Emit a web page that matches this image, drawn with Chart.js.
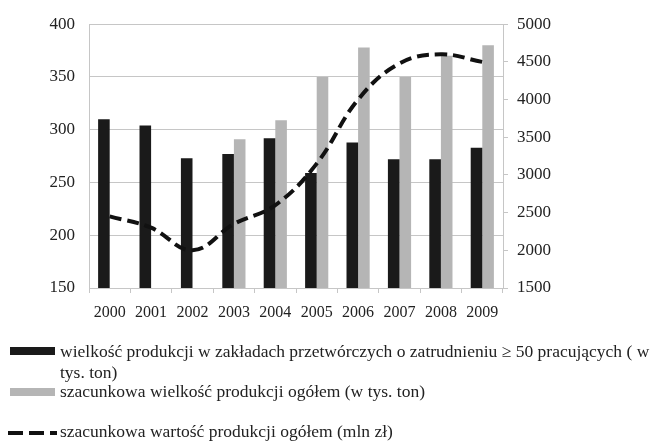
<!DOCTYPE html>
<html>
<head>
<meta charset="utf-8">
<script src="https://cdn.jsdelivr.net/npm/chart.js@4.4.0/dist/chart.umd.min.js"></script>
<style>
  body { margin: 0; background: #fff; }
</style>
</head>
<body>
<canvas id="prodChart" width="658" height="441"></canvas>
<script>
// Data
const years = ['2000', '2001', '2002', '2003', '2004', '2005', '2006', '2007', '2008', '2009'];
const plantOutput = [310, 304, 273, 277, 292, 259, 288, 272, 272, 283];          // tys. ton, left axis
const totalOutput = [null, null, null, 291, 309, 350, 378, 350, 370, 380];      // tys. ton, left axis
const totalValue = [2450, 2300, 2000, 2350, 2600, 3150, 4000, 4480, 4600, 4500]; // mln zl, right axis

const legendLabels = [
    ['wielkość produkcji w zakładach przetwórczych o zatrudnieniu ≥ 50 pracujących ( w', 'tys. ton)'],
    ['szacunkowa wielkość produkcji ogółem (w tys. ton)'],
    ['szacunkowa wartość produkcji ogółem (mln zł)']
];

const serif = 'Liberation Serif';
const gridColor = '#c6c6c6';
const textColor = '#222';

// Legend drawn under the plot, with its own line breaks
const bottomLegend = {
    id: 'bottomLegend',
    afterDraw(chart) {
        const ctx = chart.ctx;
        ctx.save();
        ctx.font = '17.5px "' + serif + '"';
        ctx.textBaseline = 'middle';
        ctx.textAlign = 'left';

        // black box
        ctx.fillStyle = '#1a1a1a';
        ctx.fillRect(10, 347, 45, 8);
        ctx.fillStyle = textColor;
        ctx.fillText(legendLabels[0][0], 60, 352);
        ctx.fillText(legendLabels[0][1], 60, 373);

        // gray box
        ctx.fillStyle = '#b5b5b5';
        ctx.fillRect(10, 388, 45, 8);
        ctx.fillStyle = textColor;
        ctx.fillText(legendLabels[1][0], 60, 392);

        // dashed line
        ctx.strokeStyle = '#111';
        ctx.lineWidth = 4;
        ctx.setLineDash([15, 6]);
        ctx.beginPath();
        ctx.moveTo(8, 433);
        ctx.lineTo(57, 433);
        ctx.stroke();
        ctx.setLineDash([]);
        ctx.fillText(legendLabels[2][0], 60, 432);
        ctx.restore();
    }
};

const chart = new Chart(document.getElementById('prodChart'), {
    data: {
        labels: years,
        datasets: [
            {
                type: 'line',
                label: legendLabels[2][0],
                data: totalValue,
                yAxisID: 'y1',
                borderColor: '#111',
                borderWidth: 4,
                borderDash: [12, 6],
                pointRadius: 0,
                tension: 0.4,
                fill: false,
                order: 0
            },
            {
                type: 'bar',
                label: legendLabels[0].join(' '),
                data: plantOutput,
                yAxisID: 'y',
                backgroundColor: '#1a1a1a',
                categoryPercentage: 0.56,
                barPercentage: 1,
                order: 1
            },
            {
                type: 'bar',
                label: legendLabels[1][0],
                data: totalOutput,
                yAxisID: 'y',
                backgroundColor: '#b5b5b5',
                categoryPercentage: 0.56,
                barPercentage: 1,
                order: 1
            }
        ]
    },
    options: {
        responsive: false,
        animation: false,
        devicePixelRatio: 1,
        layout: { padding: { top: 22, bottom: 111, left: 0, right: 0 } },
        plugins: {
            legend: { display: false },
            tooltip: { enabled: false }
        },
        scales: {
            x: {
                grid: { drawOnChartArea: false, offset: true, color: gridColor, tickLength: 5 },
                border: { color: gridColor },
                ticks: { font: { family: serif, size: 16 }, color: textColor, padding: 10, maxRotation: 0 },
                afterFit(scale) { scale.height = 42; }
            },
            y: {
                position: 'left',
                min: 150,
                max: 400,
                ticks: { stepSize: 50, font: { family: serif, size: 17 }, color: textColor, padding: 14 },
                grid: { color: gridColor, drawTicks: false },
                border: { color: gridColor },
                afterFit(scale) { scale.width = 89; }
            },
            y1: {
                position: 'right',
                min: 1500,
                max: 5000,
                ticks: {
                    stepSize: 500,
                    font: { family: serif, size: 17 },
                    color: textColor,
                    padding: 9,
                    callback: value => String(value)
                },
                grid: { drawOnChartArea: false, color: gridColor, tickLength: 5 },
                border: { color: gridColor },
                afterFit(scale) { scale.width = 155; }
            }
        }
    },
    plugins: [bottomLegend]
});
</script>
</body>
</html>
